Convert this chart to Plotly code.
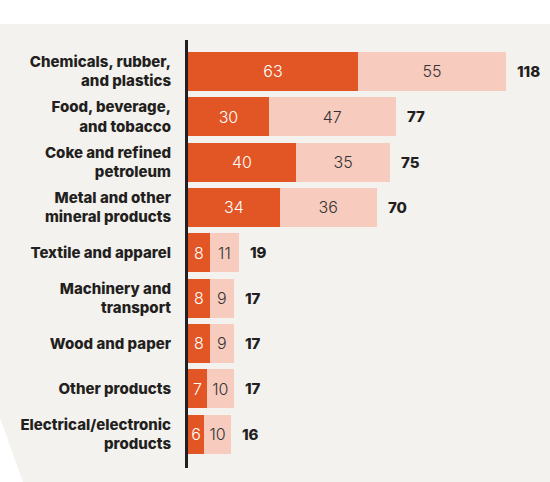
import plotly.graph_objects as go

categories = [
    "Chemicals, rubber,<br>and plastics",
    "Food, beverage,<br>and tobacco",
    "Coke and refined<br>petroleum",
    "Metal and other<br>mineral products",
    "Textile and apparel",
    "Machinery and<br>transport",
    "Wood and paper",
    "Other products",
    "Electrical/electronic<br>products",
]
series_a = [63, 30, 40, 34, 8, 8, 8, 7, 6]
series_b = [55, 47, 35, 36, 11, 9, 9, 10, 10]
totals = [118, 77, 75, 70, 19, 17, 17, 17, 16]

DARK = "#E25524"
LIGHT = "#F7CCBF"
BG = "#F4F2EE"
INK = "#231F20"

fig = go.Figure()
fig.add_trace(go.Bar(
    y=categories, x=series_a, orientation="h", marker=dict(color=DARK, line=dict(width=0)),
    text=[str(v) for v in series_a], textposition="inside", insidetextanchor="middle",
    textangle=0, textfont=dict(family="Inter", size=16, color="white", weight=300),
    width=0.86, hoverinfo="skip",
))
fig.add_trace(go.Bar(
    y=categories, x=series_b, orientation="h", marker=dict(color=LIGHT, line=dict(width=0)),
    text=[str(v) for v in series_b], textposition="inside", insidetextanchor="middle",
    textangle=0, textfont=dict(family="Inter", size=16, color="#333333", weight=300),
    width=0.86, hoverinfo="skip",
))

for c, t in zip(categories, totals):
    fig.add_annotation(x=t, y=c, text=str(t), showarrow=False, xanchor="left",
                       xshift=9, font=dict(family="Inter", size=15, color=INK, weight=800))

def px_x(X):
    return (X - 188) / (550 - 188)

def px_y(Y):
    return (468 - Y) / (468 - 40)

shapes = [
    dict(type="rect", xref="paper", yref="paper", x0=px_x(0), x1=px_x(550),
         y0=px_y(24), y1=px_y(0), fillcolor="white", line=dict(width=0), layer="below"),
    dict(type="path", xref="paper", yref="paper",
         path=f"M {px_x(0)},{px_y(418)} L {px_x(23)},{px_y(482)} L {px_x(0)},{px_y(482)} Z",
         fillcolor="white", line=dict(width=0), layer="below"),
]

fig.update_layout(
    barmode="stack",
    width=550, height=482,
    margin=dict(l=188, r=0, t=40, b=14),
    paper_bgcolor=BG, plot_bgcolor=BG,
    showlegend=False,
    shapes=shapes,
    uniformtext=dict(minsize=16, mode="show"),
    xaxis=dict(range=[0, 362 / 2.697], visible=False, fixedrange=True),
    yaxis=dict(
        range=[8.75, -0.695], showline=True, linecolor=INK, linewidth=3,
        showgrid=False, zeroline=False, ticks="", ticklabelstandoff=11,
        tickfont=dict(family="Inter", size=15, color=INK, weight=800),
        fixedrange=True,
    ),
)

fig.write_html("out.html")
